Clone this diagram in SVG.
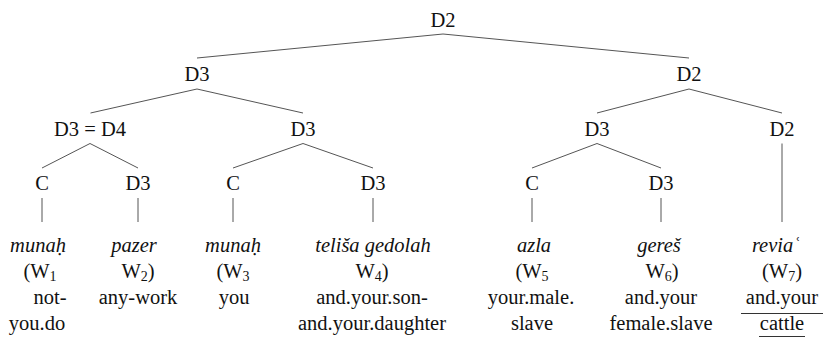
<svg xmlns="http://www.w3.org/2000/svg" width="827" height="339" viewBox="0 0 827 339">
  <style>
    text { font-family: "Liberation Serif", "Times New Roman", serif; font-size: 20.5px; fill: #111; text-anchor: middle; }
    .it { font-style: italic; }
    .sub { font-size: 14px; }
    .edge { stroke: #555; stroke-width: 1; fill: none; }
    .ul { stroke: #333; stroke-width: 1; }
  </style>
  <rect width="827" height="339" fill="#fff"/>

  <!-- tree branches -->
  <g id="connectors">
    <path class="edge" d="M197,58 L443,34 L689,58"/>
    <path class="edge" d="M90.5,113 L197,89 L303,113"/>
    <path class="edge" d="M597,113 L689,89 L782,113"/>
    <path class="edge" d="M42,168 L90,143.5 L138,168"/>
    <path class="edge" d="M233,168 L303,143.5 L373,168"/>
    <path class="edge" d="M532,168 L597,143.5 L661,168"/>
    <path class="edge" d="M782,143.5 L782,222"/>
    <path class="edge" d="M42,198 V222 M138,198 V222 M233,198 V222 M373,198 V222 M532,198 V222 M661,198 V222"/>
  </g>

  <!-- internal nodes -->
  <g id="n-root"><text x="443" y="27">D2</text></g>
  <g id="n-d3-left"><text x="197" y="81">D3</text></g>
  <g id="n-d2-right"><text x="689" y="81">D2</text></g>
  <g id="n-d3-d4"><text x="90" y="136">D3 = D4</text></g>
  <g id="n-d3-mid"><text x="303" y="136">D3</text></g>
  <g id="n-d3-right"><text x="597" y="136">D3</text></g>
  <g id="n-d2-last"><text x="782" y="136">D2</text></g>
  <g id="n-c1"><text x="42" y="190">C</text></g>
  <g id="n-d3-w2"><text x="138" y="190">D3</text></g>
  <g id="n-c3"><text x="233" y="190">C</text></g>
  <g id="n-d3-w4"><text x="373" y="190">D3</text></g>
  <g id="n-c5"><text x="532" y="190">C</text></g>
  <g id="n-d3-w6"><text x="661" y="190">D3</text></g>

  <!-- leaves -->
  <g id="leaf-w1">
    <text class="it" x="38" y="252">munaḥ</text>
    <text x="40" y="278">(W<tspan class="sub" dy="3">1</tspan></text>
    <text x="50" y="304">not-</text>
    <text x="37" y="330">you.do</text>
  </g>
  <g id="leaf-w2">
    <text class="it" x="134" y="252">pazer</text>
    <text x="138" y="278">W<tspan class="sub" dy="3">2</tspan><tspan dy="-3">)</tspan></text>
    <text x="138" y="304">any-work</text>
  </g>
  <g id="leaf-w3">
    <text class="it" x="233" y="252">munaḥ</text>
    <text x="233" y="278">(W<tspan class="sub" dy="3">3</tspan></text>
    <text x="234" y="304">you</text>
  </g>
  <g id="leaf-w4">
    <text class="it" x="373" y="252">teliša gedolah</text>
    <text x="372" y="278">W<tspan class="sub" dy="3">4</tspan><tspan dy="-3">)</tspan></text>
    <text x="372" y="304">and.your.son-</text>
    <text x="372" y="330">and.your.daughter</text>
  </g>
  <g id="leaf-w5">
    <text class="it" x="534" y="252">azla</text>
    <text x="532" y="278">(W<tspan class="sub" dy="3">5</tspan></text>
    <text x="531" y="304">your.male.</text>
    <text x="532" y="330">slave</text>
  </g>
  <g id="leaf-w6">
    <text class="it" x="659" y="252">gereš</text>
    <text x="662" y="278">W<tspan class="sub" dy="3">6</tspan><tspan dy="-3">)</tspan></text>
    <text x="661" y="304">and.your</text>
    <text x="661" y="330">female.slave</text>
  </g>
  <g id="leaf-w7">
    <text class="it" x="776" y="252">reviaʿ</text>
    <text x="782" y="278">(W<tspan class="sub" dy="3">7</tspan><tspan dy="-3">)</tspan></text>
    <text x="782" y="304">and.your</text>
    <text x="782" y="330">cattle</text>
    <line class="ul" x1="741" y1="313.5" x2="823" y2="313.5"/>
    <line class="ul" x1="759" y1="336.5" x2="805" y2="336.5"/>
  </g>
</svg>
